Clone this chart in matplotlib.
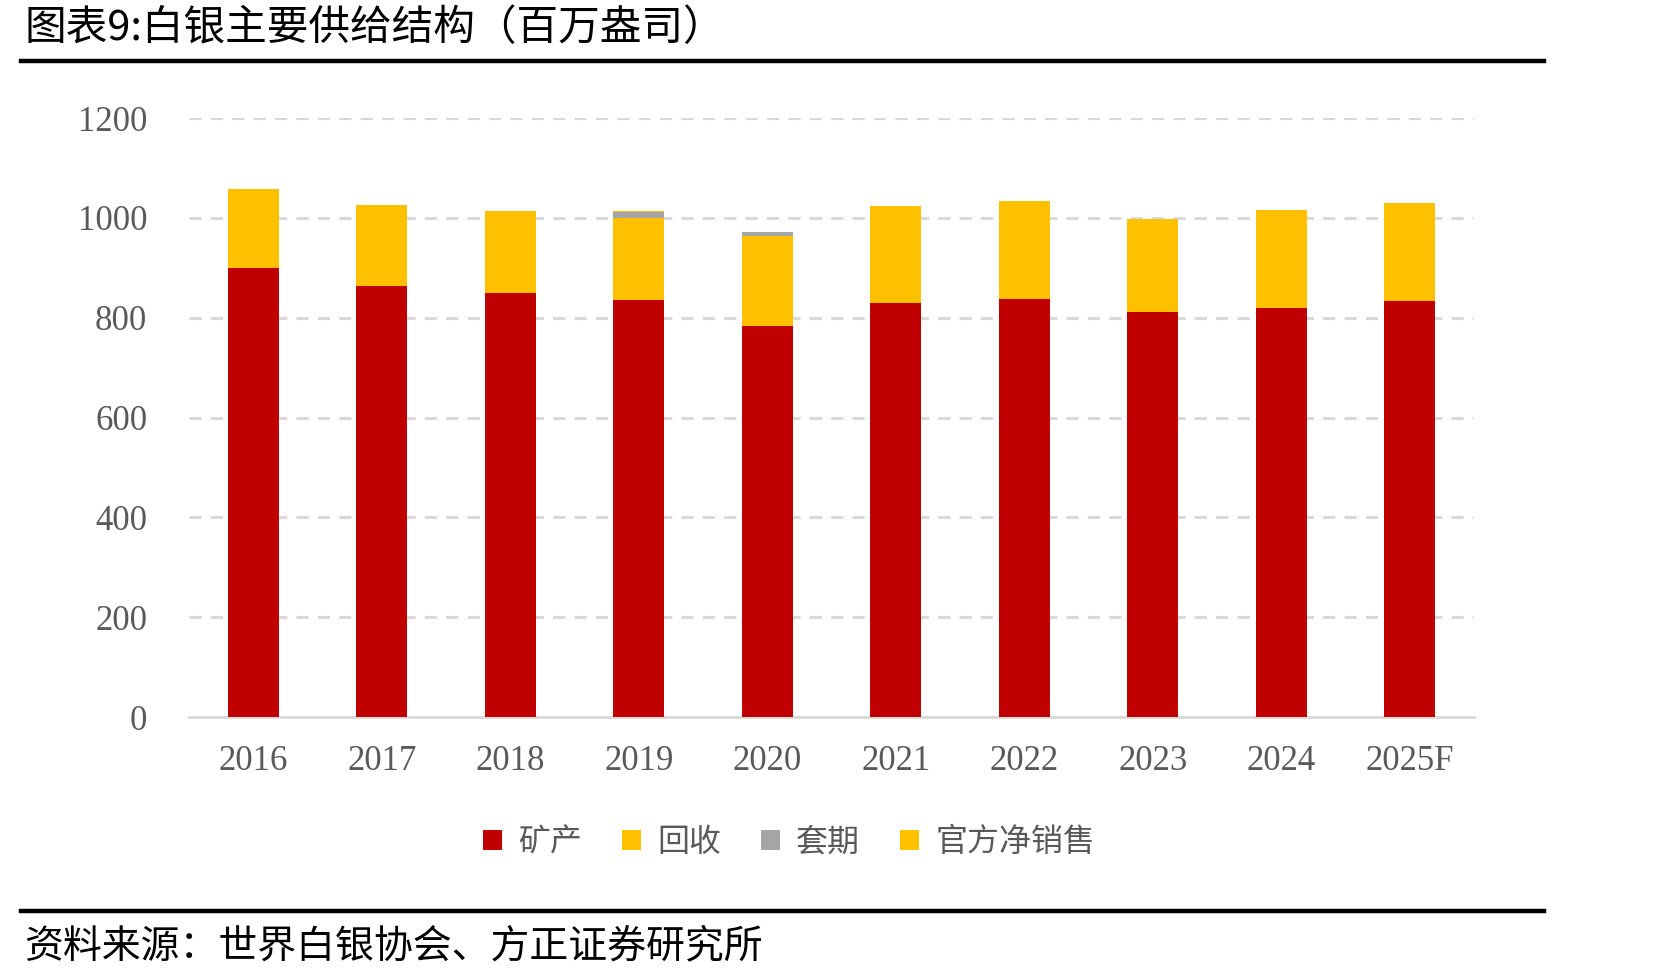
import matplotlib
matplotlib.use("Agg")
import matplotlib.pyplot as plt
import numpy as np
from matplotlib.patches import Patch

plt.rcParams['font.family'] = ['Noto Sans CJK SC', 'DejaVu Sans']

years = ["2016", "2017", "2018", "2019", "2020", "2021", "2022", "2023", "2024", "2025F"]
mine = [899, 863, 849, 835, 783, 830, 838, 811, 820, 834]
recycling = [158, 162, 164, 164, 180, 191, 195, 186, 195, 195]
hedging = [0, 0, 0, 13, 8, 0, 0, 0, 0, 0]
official = [0, 0, 0, 1, 1, 2, 0, 0, 0, 0]
series_names = ["矿产", "回收", "套期", "官方净销售"]
yticks = [0, 200, 400, 600, 800, 1000, 1200]

colors = ["#C00000", "#FFC000", "#A5A5A5", "#FFC000"]
W, H = 1671, 980
fig = plt.figure(figsize=(W / 100, H / 100), dpi=100)

ax_l, ax_r = 189 / W, 1474 / W
ax_b, ax_t = 1 - 717 / H, 1 - 118 / H
ax = fig.add_axes([ax_l, ax_b, ax_r - ax_l, ax_t - ax_b])

x = np.arange(len(years))
bottom = np.zeros(len(years))
for vals, c in zip([mine, recycling, hedging, official], colors):
    ax.bar(x, vals, width=0.4, bottom=bottom, color=c, zorder=3)
    bottom += np.array(vals)

ax.set_xlim(-0.5, len(years) - 0.5)
ax.set_ylim(0, 1200)
ax.set_yticks(yticks)
ax.set_yticklabels([str(v) for v in yticks])
ax.set_xticks(x)
ax.set_xticklabels(years)
for lab in ax.get_xticklabels() + ax.get_yticklabels():
    lab.set_family(['Liberation Serif'])
    lab.set_fontsize(25)
    lab.set_color('#595959')
ax.tick_params(axis='both', length=0)
ax.tick_params(axis='y', pad=30)
ax.tick_params(axis='x', pad=20)

for v in yticks[1:]:
    ax.axhline(v, color='#d9d9d9', lw=2.2, ls=(0, (4, 3)), zorder=1)
for s in ['top', 'right', 'left']:
    ax.spines[s].set_visible(False)
ax.spines['bottom'].set_color('#d9d9d9')
ax.spines['bottom'].set_linewidth(2)

handles = [Patch(facecolor=c, edgecolor='none') for c in colors]
leg = fig.legend(handles, series_names, loc='center', bbox_to_anchor=(789 / W, 1 - 842 / H),
                 ncol=4, frameon=False, fontsize=23, handlelength=0.6, handleheight=0.6,
                 handletextpad=0.5, columnspacing=1.25)
for t in leg.get_texts():
    t.set_color('#595959')

# title and rules
fig.text(24 / W, 1 - 29 / H, "图表9:白银主要供给结构（百万盎司）", fontsize=30, va='center', ha='left', color='black')
fig.add_artist(plt.Line2D([21 / W, 1544 / W], [1 - 61 / H, 1 - 61 / H], color='black', lw=3.2))
fig.add_artist(plt.Line2D([21 / W, 1544 / W], [1 - 911 / H, 1 - 911 / H], color='black', lw=3.2))
fig.text(24 / W, 1 - 946 / H, "资料来源：世界白银协会、方正证券研究所", fontsize=28, va='center', ha='left',
         color='black', style='italic')

fig.savefig("out.png", dpi=100)
